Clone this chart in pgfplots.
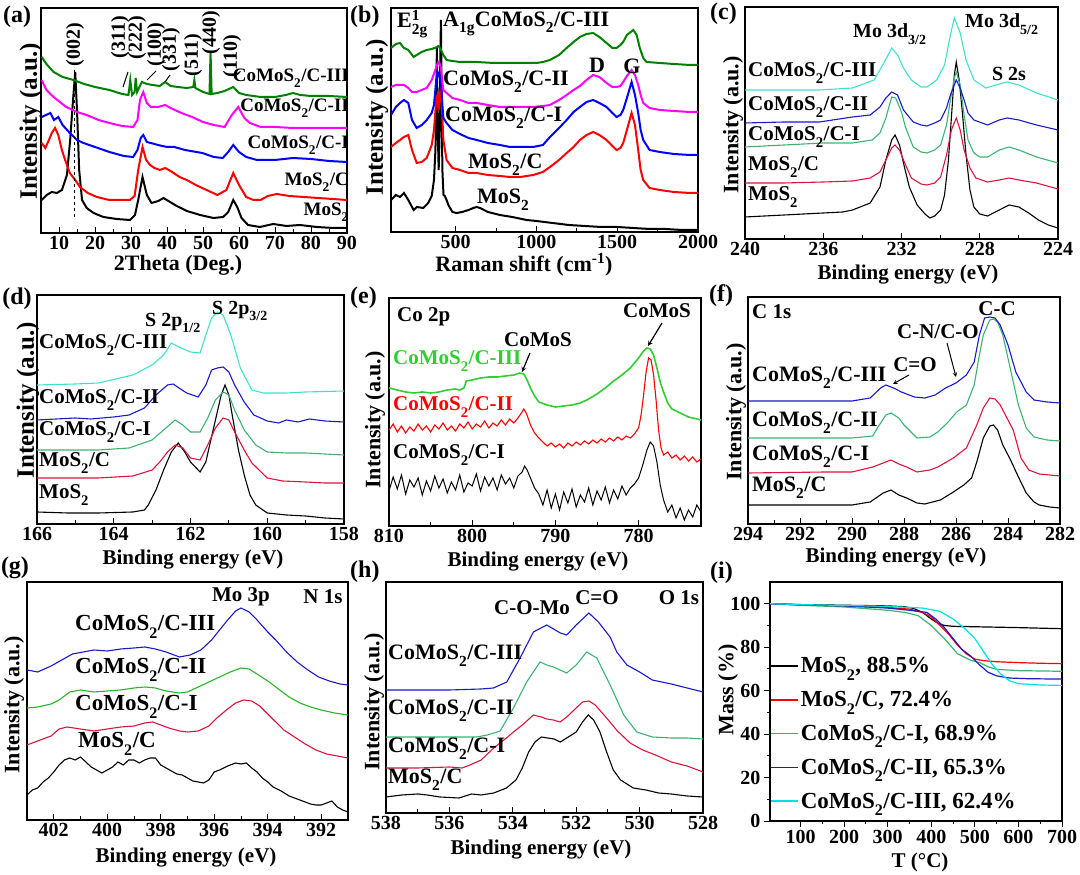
\documentclass[border=0pt]{standalone}
\usepackage{fontspec}
\setmainfont{Liberation Serif}[UprightFont={* Bold}]
\usepackage{pgfplots}
\pgfplotsset{compat=1.18}
\definecolor{cRed}{RGB}{255,0,0}
\definecolor{cCrim}{RGB}{220,20,60}
\definecolor{cMag}{RGB}{255,0,255}
\definecolor{cBlue}{RGB}{0,0,255}
\definecolor{cNavy}{RGB}{25,25,200}
\definecolor{cGreen}{RGB}{0,128,0}
\definecolor{cLime}{RGB}{50,205,50}
\definecolor{cG2}{RGB}{40,180,40}
\definecolor{cSea}{RGB}{60,179,113}
\definecolor{cTurq}{RGB}{64,224,208}
\definecolor{cCyan}{RGB}{0,225,230}
\newcommand\fs[1]{\fontsize{#1}{#1}\selectfont}
\newcommand\s[1]{\raisebox{-0.35ex}{\textsubscript{#1}}}
\newcommand\CM{CoMoS\s{2}/C}
\newcommand\MS{MoS\s{2}}
\pgfplotsset{
  base/.style={scale only axis, anchor=center, axis line style={line width=1.1pt},
    every tick/.style={line width=0.9pt, black}, major tick length=6pt, minor tick length=3.5pt,
    tick label style={font=\fs{20}}, /pgf/number format/assume math mode=true,
    /pgf/number format/1000 sep={}, tick pos=left},
  spec/.style={base, y filter/.expression={-y}, ytick=\empty, minor x tick num=1},
}
\begin{document}
\begin{tikzpicture}
\useasboundingbox (0,0) rectangle (1080pt,875pt);
% (a)
\begin{axis}[spec, at={(194pt,754.5pt)}, width=306pt, height=225pt, xmin=5, xmax=90, ymin=-233, ymax=-8, xtick={10,20,...,90}]
\addplot[black, line width=2pt] coordinates {(5.2,200)(6.6,195)(8.0,192)(9.4,193)(10.8,190)(12.2,175)(13.1,140)(13.9,100)(14.5,72)(15.0,110)(15.6,170)(16.4,200)(17.7,208)(19.6,213)(22.3,217)(26.0,219)(29.7,220)(31.1,215)(32.0,200)(33.2,177)(34.4,195)(35.7,203)(37.6,201)(39.0,198)(40.4,201)(42.7,206)(45.5,211)(49.2,215)(52.9,218)(55.6,217)(57.0,212)(58.4,200)(59.5,207)(60.7,218)(62.5,225)(65.8,227)(69.5,224)(73.2,226)(76.9,225)(81.6,227)(86.2,228)(90,228)};
\addplot[cRed, line width=2pt] coordinates {(5.2,143)(6.2,148)(7.2,140)(8.0,133)(8.9,128)(9.8,135)(10.8,150)(11.7,160)(13.0,173)(14.5,180)(15.8,187)(18.0,193)(20.5,197)(24,200)(27,200)(29.7,200)(31.0,196)(32.0,170)(33.2,147)(34.2,160)(35.3,165)(36.5,168)(38,170)(39.5,168)(41,171)(43.5,177)(45.5,180)(48,185)(51,190)(54,195)(56.5,190)(58.4,173)(60,185)(62,197)(64,200)(66,200)(68,196)(70.5,194)(74,196)(78,197)(82,198)(86,199)(90,200)};
\addplot[cBlue, line width=2pt] coordinates {(5.2,117)(6.4,115)(7.6,113)(8.6,120)(9.8,117)(11,125)(13,133)(15,140)(16.8,143)(20,147)(24,152)(28,156)(30.6,157)(31.8,150)(32.7,138)(33.4,135)(34.4,142)(35.5,143)(37.5,145)(40,147)(42,147)(45,150)(49.8,153)(53,157)(55.5,158)(57,152)(58.4,145)(60,152)(62,157)(65,160)(70,160)(75,158)(80,159)(85,161)(90,162)};
\addplot[cMag, line width=2pt] coordinates {(5.2,80)(6.5,90)(8.5,97)(12,107)(15,112)(17.7,115)(21,120)(24,123)(27.5,126)(30.6,127)(31.8,120)(32.5,100)(33.4,92)(34.4,103)(35.5,107)(37.5,107)(39.5,105)(41,108)(44,113)(47,117)(50,122)(53,125)(56,127)(58,115)(59.8,107)(61.5,118)(63,123)(66,127)(70,127)(75,128)(80,128)(85,128)(90,128)};
\addplot[cGreen, line width=2pt] coordinates {(5.2,57)(6.5,64)(8.5,72)(11,77)(14,80)(17,84)(20,87)(24,90)(27.5,94)(29.3,95)(29.8,80)(30.3,95)(31.0,92)(31.3,78)(31.7,92)(33,82)(34.4,84)(36,85)(38,86)(39.5,82)(41,86)(43,87)(45.5,88)(47.3,87)(47.6,80)(47.9,88)(50,92)(51.8,94)(52.1,52)(52.4,94)(54,93)(56,91)(58.4,87)(60,93)(62,95)(66,97)(70,97)(73,95)(75,93)(77,95)(80,96)(85,96)(90,97)};
\draw[dashed, line width=1pt] (axis cs:14.4,-70) -- (axis cs:14.4,-217);
\end{axis}
% (b)
\begin{axis}[spec, at={(544.5pt,755pt)}, width=307pt, height=224pt, xmin=100, xmax=2000, ymin=-232, ymax=-8, xtick={500,1000,1500,2000}]
\addplot[black, line width=2pt] coordinates {(100,200)(130,195)(156,197)(180,193)(207,200)(240,210)(260,207)(300,208)(330,203)(352,196)(366,180)(375,150)(380,100)(384,47)(388,120)(395,170)(400,140)(405,60)(409,20)(413,90)(418,170)(425,195)(433,196)(444,200)(455,205)(480,212)(506,213)(540,212)(580,210)(609,208)(630,207)(651,208)(700,212)(774,215)(850,217)(939,220)(1000,221)(1100,223)(1200,225)(1300,226)(1400,227)(1500,227)(1600,228)(1700,229)(1800,229)(1900,230)(2000,230)};
\addplot[cRed, line width=2pt] coordinates {(100,147)(130,143)(156,140)(180,137)(207,135)(230,150)(259,163)(290,162)(321,158)(352,145)(366,130)(380,100)(388,95)(395,110)(402,95)(409,87)(416,110)(424,140)(444,160)(480,168)(527,170)(580,173)(630,173)(700,175)(774,176)(836,177)(900,177)(980,175)(1040,172)(1084,167)(1140,160)(1187,153)(1230,147)(1269,140)(1310,135)(1351,132)(1390,135)(1434,140)(1470,146)(1496,150)(1520,148)(1537,143)(1560,130)(1589,113)(1610,125)(1630,150)(1645,170)(1661,180)(1700,188)(1764,190)(1850,192)(1950,193)(2000,193)};
\addplot[cBlue, line width=2pt] coordinates {(100,115)(130,107)(156,103)(180,100)(207,103)(230,120)(259,128)(290,125)(321,120)(352,113)(366,105)(380,80)(388,72)(395,75)(402,78)(409,80)(416,100)(424,118)(444,123)(480,130)(527,134)(580,138)(630,140)(700,143)(774,145)(836,147)(900,147)(980,147)(1040,145)(1084,137)(1140,128)(1187,120)(1230,112)(1269,107)(1310,102)(1351,100)(1390,103)(1434,107)(1470,113)(1496,117)(1520,115)(1537,110)(1560,98)(1589,82)(1610,95)(1630,113)(1645,130)(1661,140)(1700,150)(1764,152)(1850,154)(1950,155)(2000,155)};
\addplot[cMag, line width=2pt] coordinates {(100,87)(130,85)(156,85)(180,85)(207,88)(230,92)(259,92)(290,90)(321,88)(352,80)(370,72)(385,65)(393,62)(400,63)(409,68)(416,80)(424,90)(444,93)(480,98)(527,100)(580,103)(630,103)(700,105)(774,107)(836,107)(900,107)(980,107)(1040,106)(1084,105)(1140,100)(1187,95)(1230,90)(1269,86)(1310,80)(1351,75)(1390,77)(1434,83)(1470,87)(1496,87)(1520,86)(1537,82)(1560,76)(1589,70)(1610,75)(1630,85)(1645,95)(1661,103)(1700,108)(1764,110)(1850,111)(1950,112)(2000,112)};
\addplot[cGreen, line width=2pt] coordinates {(100,48)(130,44)(156,43)(180,48)(207,50)(240,57)(259,55)(290,52)(321,50)(352,49)(370,48)(385,47)(393,46)(400,47)(409,50)(424,55)(444,60)(480,61)(527,62)(630,62)(736,63)(836,63)(939,63)(1000,63)(1040,62)(1084,60)(1140,55)(1187,48)(1230,42)(1269,37)(1310,34)(1351,33)(1390,37)(1434,43)(1470,48)(1496,48)(1520,45)(1537,42)(1560,35)(1600,30)(1620,35)(1640,48)(1661,58)(1681,62)(1764,63)(1850,64)(1950,65)(2000,65)};
\end{axis}
% (c)
\begin{axis}[spec, at={(901.5pt,752pt)}, width=313pt, height=232pt, x dir=reverse, xmin=224, xmax=240, ymin=-239, ymax=-7, xtick={224,228,...,240}]
\addplot[black, line width=1.1pt] coordinates {(240,217)(238,215)(236,213)(235,212)(234.5,210)(233.6,203)(233.1,187)(232.8,160)(232.5,140)(232.33,135)(232.1,145)(231.9,163)(231.6,187)(231.2,205)(230.8,214)(230.55,218)(230.3,216)(230.0,210)(229.8,195)(229.6,160)(229.44,115)(229.3,75)(229.2,62)(229.05,80)(228.9,110)(228.7,155)(228.5,190)(228.3,207)(228.0,214)(227.6,216)(227.0,210)(226.5,205)(226.0,207)(225.5,213)(225.0,220)(224.5,225)(224,228)};
\addplot[cCrim, line width=1.1pt] coordinates {(240,183)(238,183)(236,182)(234.5,181)(233.6,178)(233.1,172)(232.8,160)(232.5,148)(232.33,145)(232.1,150)(231.9,160)(231.5,178)(231.0,184)(230.7,185)(230.3,183)(230.0,177)(229.7,155)(229.45,130)(229.2,118)(229.0,130)(228.8,150)(228.5,168)(228.2,178)(227.6,182)(227.0,180)(226.5,178)(226,180)(225.1,183)(224,189)};
\addplot[cSea, line width=1.1pt] coordinates {(240,147)(238,145)(236,143)(234.5,143)(233.5,140)(233.1,133)(232.8,118)(232.5,97)(232.3,98)(232.0,112)(231.8,127)(231.4,147)(231.0,152)(230.7,153)(230.3,150)(230.0,145)(229.7,125)(229.5,100)(229.3,78)(229.2,72)(229.0,85)(228.8,115)(228.6,140)(228.3,153)(228.0,157)(227.6,157)(227,150)(226.5,147)(226,150)(225.1,157)(224,163)};
\addplot[cNavy, line width=1.1pt] coordinates {(240,123)(238,122)(236.2,122)(234.5,117)(233.6,115)(233.1,107)(232.8,98)(232.5,92)(232.2,95)(231.9,110)(231.4,122)(231.0,125)(230.7,126)(230.3,123)(230.0,120)(229.7,108)(229.5,95)(229.2,80)(229.0,88)(228.8,100)(228.6,113)(228.3,120)(227.6,125)(227.0,120)(226.6,118)(226.0,120)(225.1,125)(224,130)};
\addplot[cTurq, line width=1.1pt] coordinates {(240,90)(238,90)(236.2,90)(234.5,88)(233.4,80)(232.9,63)(232.5,48)(232.2,55)(231.9,68)(231.5,80)(231.0,87)(230.7,87)(230.2,80)(229.8,65)(229.5,35)(229.3,18)(229.0,33)(228.7,60)(228.3,80)(227.7,88)(227.0,84)(226.6,82)(226.0,85)(225.1,93)(224,100)};
\end{axis}
% (d)
\begin{axis}[spec, at={(190.5pt,465.5pt)}, width=307pt, height=229pt, x dir=reverse, xmin=158, xmax=166, ymin=-524, ymax=-295, xtick={158,160,...,166}]
\addplot[black, line width=1.1pt] coordinates {(166,512)(165.2,513)(164.4,513)(163.5,512)(163.2,510)(163.1,505)(162.9,490)(162.7,470)(162.5,452)(162.32,443)(162.15,452)(162.0,462)(161.75,472)(161.6,462)(161.5,445)(161.35,420)(161.2,395)(161.1,385)(161.0,395)(160.9,418)(160.75,450)(160.6,475)(160.45,495)(160.3,505)(160.0,513)(159.5,515)(159,516)(158.5,518)(158,519)};
\addplot[cCrim, line width=1.1pt] coordinates {(166,478)(165,478)(164.4,478)(163.5,476)(163.0,470)(162.8,462)(162.6,452)(162.4,445)(162.2,448)(162.0,458)(161.75,460)(161.55,445)(161.35,428)(161.15,418)(161.0,420)(160.85,432)(160.6,450)(160.4,463)(160.0,478)(159.6,481)(159,482)(158.5,483)(158,483)};
\addplot[cSea, line width=1.1pt] coordinates {(166,450)(165,450)(164.4,450)(163.6,448)(163.0,440)(162.7,430)(162.4,420)(162.2,425)(162.0,432)(161.75,432)(161.55,418)(161.35,400)(161.15,392)(161.0,395)(160.85,410)(160.6,430)(160.3,445)(160.0,452)(159.5,453)(159,453)(158.5,454)(158,455)};
\addplot[cNavy, line width=1.1pt] coordinates {(166,420)(165.5,419)(165,418)(164.6,419)(164,417)(163.6,415)(163.2,408)(162.9,395)(162.6,385)(162.45,384)(162.3,388)(162.1,393)(161.8,397)(161.6,385)(161.45,370)(161.3,368)(161.15,367)(161.0,372)(160.85,385)(160.6,402)(160.35,415)(160.0,421)(159.7,423)(159.5,420)(159.2,422)(158.9,419)(158.5,421)(158,422)};
\addplot[cTurq, line width=1.1pt] coordinates {(166,385)(165,384)(164.4,383)(163.5,375)(163.0,365)(162.7,355)(162.5,343)(162.3,347)(162.0,352)(161.75,353)(161.6,335)(161.45,318)(161.3,312)(161.15,315)(160.95,335)(160.7,368)(160.4,390)(160.1,393)(159.5,393)(159,392)(158,391)};
\end{axis}
% (e)
\begin{axis}[spec, at={(545pt,463pt)}, width=312pt, height=228pt, x dir=reverse, xmin=772.5, xmax=810, ymin=-526, ymax=-298, xtick={780,790,800,810}]
\addplot[black, line width=1pt] coordinates {(810,491)(809.5,477)(809,489)(808.5,475)(808,494)(807.5,480)(807,487)(806.5,478)(806,495)(805.5,481)(805,491)(804.5,476)(804,488)(803.5,479)(803,493)(802.5,482)(802,490)(801.5,475)(801,492)(800.5,483)(800,486)(799.5,474)(799,491)(798.5,477)(798,486)(797.5,478)(797,490)(796.5,475)(796,484)(795.5,478)(795,488)(794.5,476)(794,472)(793.7,466)(793.4,470)(793,478)(792.5,488)(792,494)(791.5,505)(791,490)(790.5,508)(790,494)(789.5,510)(789,492)(788.5,503)(788,489)(787.5,507)(787,495)(786.5,502)(786,488)(785.5,505)(785,491)(784.5,500)(784,487)(783.5,503)(783,490)(782.5,499)(782,486)(781.5,495)(781,488)(780.5,484)(780,478)(779.5,465)(779,450)(778.6,442)(778.2,446)(777.8,462)(777.4,485)(777,500)(776.5,512)(776,505)(775.5,518)(775,508)(774.5,520)(774,510)(773.5,517)(773,505)(772.5,512)};
\addplot[cRed, line width=1.1pt] coordinates {(810,430)(809.5,424)(809,432)(808.5,426)(808,433)(807.5,427)(807,431)(806.5,424)(806,430)(805.5,426)(805,432)(804.5,425)(804,429)(803.5,423)(803,430)(802.5,426)(802,431)(801.5,424)(801,428)(800.5,422)(800,429)(799.5,424)(799,427)(798.5,421)(798,428)(797.5,423)(797,426)(796.5,420)(796,425)(795.5,419)(795,423)(794.5,418)(794,412)(793.8,409)(793.5,413)(793.2,420)(793,425)(792.5,433)(792,438)(791.5,442)(791,446)(790.5,443)(790,447)(789.5,444)(789,448)(788.5,443)(788,446)(787.5,442)(787,445)(786.5,441)(786,444)(785.5,440)(785,443)(784.5,439)(784,442)(783.5,438)(783,441)(782.5,437)(782,440)(781.5,436)(781,438)(780.5,434)(780,428)(779.7,415)(779.4,395)(779.1,372)(778.8,358)(778.5,360)(778.2,375)(777.9,400)(777.6,430)(777.3,448)(777,455)(776.5,452)(776,458)(775.5,455)(775,460)(774.5,456)(774,461)(773.5,457)(773,462)(772.5,459)};
\addplot[cLime, line width=1.6pt] coordinates {(810,388)(809,390)(808,392)(807,393)(806,392)(805,393)(804,392)(803.5,391)(803,390)(802,389)(801.5,390)(801,388)(800.7,381)(800,380)(799,378)(798,377)(797,377)(796,376)(795,375)(794.3,373)(793.8,374)(793.4,380)(793,388)(792.5,396)(792,402)(791,405)(790,407)(789,406)(788,405)(787,403)(786,399)(785,394)(784,388)(783,381)(782,375)(781,368)(780.5,363)(780,358)(779.5,352)(779,348)(778.6,349)(778.2,355)(777.8,368)(777.4,382)(777,392)(776.5,403)(776,409)(775,413)(774,417)(773,419)(772.5,420)};
\end{axis}
% (f)
\begin{axis}[spec, at={(904pt,464.5pt)}, width=312pt, height=227pt, x dir=reverse, xmin=282, xmax=294, ymin=-524, ymax=-297, xtick={282,284,...,294}]
\addplot[black, line width=1.1pt] coordinates {(294,505)(291.2,505)(290,505)(289.3,502)(288.8,493)(288.5,490)(288.2,495)(287.9,498)(287.5,503)(287.2,504)(286.9,502)(286.6,500)(286.1,492)(285.7,485)(285.4,478)(285.2,462)(284.95,438)(284.7,426)(284.56,425)(284.4,430)(284.2,445)(283.9,460)(283.6,477)(283.3,493)(283.0,502)(282.8,505)(282.4,507)(282,508)};
\addplot[cCrim, line width=1.1pt] coordinates {(294,473)(291,472)(290,472)(289.2,467)(288.8,463)(288.5,460)(288.2,464)(287.9,467)(287.5,472)(287.0,470)(286.7,467)(286.1,458)(285.6,448)(285.2,425)(284.95,408)(284.7,398)(284.5,399)(284.3,405)(284.0,420)(283.8,430)(283.5,458)(283.2,470)(282.8,474)(282.4,475)(282,476)};
\addplot[cSea, line width=1.1pt] coordinates {(294,438)(292,438)(290,438)(289.2,436)(289.0,427)(288.7,415)(288.5,413)(288.2,418)(288.0,425)(287.5,438)(287.0,437)(286.7,432)(286.3,422)(285.97,412)(285.6,405)(285.3,385)(285.1,355)(284.95,335)(284.7,320)(284.56,319)(284.4,322)(284.2,335)(283.9,370)(283.6,405)(283.3,428)(283.0,437)(282.5,440)(282,441)};
\addplot[cNavy, line width=1.1pt] coordinates {(294,401)(292,401)(290,401)(289.3,398)(288.9,388)(288.7,385)(288.4,388)(288.1,392)(287.6,397)(287.2,398)(286.8,395)(286.4,388)(286.0,383)(285.6,375)(285.3,362)(285.1,335)(284.9,318)(284.7,317)(284.5,318)(284.3,325)(284.0,345)(283.7,372)(283.3,392)(283.0,400)(282.5,402)(282,403)};
\end{axis}
% (g)
\begin{axis}[spec, at={(187.5pt,174pt)}, width=321pt, height=238pt, x dir=reverse, xmin=391, xmax=403, ymin=-820, ymax=-582, xtick={392,394,...,402}]
\addplot[black, line width=1.1pt] coordinates {(403,795)(402.8,790)(402.6,788)(402.4,782)(402.2,778)(402,772)(401.8,765)(401.6,760)(401.4,758)(401.2,760)(401,757)(400.8,762)(400.6,767)(400.4,770)(400.2,773)(400,770)(399.8,767)(399.6,762)(399.4,765)(399.2,760)(399,760)(398.8,763)(398.6,760)(398.4,758)(398.2,758)(398,765)(397.8,768)(397.6,771)(397.4,774)(397.2,775)(397,778)(396.8,781)(396.6,782)(396.4,783)(396.2,780)(396,772)(395.8,770)(395.5,766)(395.2,763)(395,764)(394.8,763)(394.6,768)(394.4,772)(394.2,778)(394,782)(393.8,787)(393.5,791)(393.2,796)(393,798)(392.7,801)(392.4,804)(392.2,805)(392,805)(391.8,803)(391.6,801)(391.4,807)(391.2,810)(391,812)};
\addplot[cCrim, line width=1.1pt] coordinates {(403,745)(402.6,741)(402.1,736)(401.8,729)(401.5,727)(401,729)(400.5,731)(400,729)(399.5,727)(399,726)(398.6,723)(398.3,722)(398,725)(397.7,728)(397.3,731)(397,732)(396.6,731)(396.2,726)(395.9,718)(395.5,709)(395.2,703)(394.9,700)(394.6,701)(394.3,706)(394,714)(393.7,722)(393.4,730)(393,737)(392.6,744)(392.2,750)(391.8,754)(391.4,756)(391,758)};
\addplot[cG2, line width=1.1pt] coordinates {(403,708)(402.6,707)(402.1,704)(401.8,700)(401.4,692)(401,690)(400.5,692)(400,691)(399.5,690)(399,688)(398.6,687)(398.2,688)(397.8,691)(397.3,693)(397,692)(396.6,687)(396.2,682)(395.8,677)(395.4,672)(395,668)(394.7,669)(394.4,674)(394,681)(393.6,689)(393.2,697)(392.8,703)(392.4,707)(392,710)(391.5,713)(391,715)};
\addplot[cNavy, line width=1.1pt] coordinates {(403,670)(402.6,672)(402.1,666)(401.7,660)(401.3,654)(400.9,652)(400.5,650)(400,651)(399.5,649)(399,648)(398.6,647)(398.2,649)(397.8,652)(397.3,657)(396.9,655)(396.5,650)(396.1,640)(395.8,630)(395.5,620)(395.2,611)(395,608)(394.7,612)(394.4,620)(394,632)(393.7,640)(393.3,652)(392.9,662)(392.5,670)(392.1,677)(391.7,681)(391.3,684)(391,685)};
\end{axis}
% (h)
\begin{axis}[spec, at={(544.5pt,177.5pt)}, width=317pt, height=231pt, x dir=reverse, xmin=528, xmax=538, ymin=-813, ymax=-582, xtick={528,530,...,538}]
\addplot[black, line width=1.1pt] coordinates {(538,797)(537.5,795)(537,794)(536.7,795)(536.3,797)(535.7,798)(535.3,794)(535,795)(534.6,793)(534.2,788)(533.9,780)(533.7,768)(533.5,752)(533.3,742)(533.1,737)(532.9,738)(532.7,739)(532.5,742)(532.3,738)(532,732)(531.8,722)(531.62,715)(531.45,720)(531.25,732)(531.04,752)(530.83,770)(530.6,780)(530.2,788)(529.8,790)(529.4,793)(529,794)(528.5,796)(528,797)};
\addplot[cCrim, line width=1.1pt] coordinates {(538,768)(537,768)(536,767)(535.6,768)(535.35,765)(535,760)(534.6,748)(534.2,738)(533.98,732)(533.7,725)(533.35,715)(533.1,717)(532.93,719)(532.72,720)(532.51,722)(532.3,717)(532,708)(531.8,702)(531.6,701)(531.4,705)(531.04,718)(530.7,731)(530.3,743)(529.9,750)(529.5,755)(529,762)(528.5,766)(528,772)};
\addplot[cSea, line width=1.1pt] coordinates {(538,737)(537,737)(536,737)(535.14,737)(534.8,735)(534.4,731)(533.98,708)(533.56,682)(533.14,662)(532.93,665)(532.72,667)(532.3,673)(532,665)(531.67,652)(531.35,658)(530.93,685)(530.5,715)(530.09,732)(529.6,737)(529,738)(528.5,738)(528,739)};
\addplot[cNavy, line width=1.1pt] coordinates {(538,690)(537,690)(536,690)(535,689)(534.61,688)(534.19,682)(533.77,658)(533.35,632)(532.93,625)(532.5,633)(532.3,635)(532,625)(531.6,613)(531.3,622)(530.93,637)(530.72,652)(530.4,665)(530,672)(529.6,680)(529,684)(528.5,688)(528,692)};
\end{axis}
% (i)
\begin{axis}[base, at={(916pt,173.5pt)}, width=292pt, height=239pt, xmin=30, xmax=700, ymin=0, ymax=110, xtick={100,200,...,700}, ytick={0,20,...,100}, minor tick num=1, tick align=outside,
  legend style={at={(0,0.693)}, anchor=north west, draw=none, fill=none, font=\fs{23}, row sep=13pt, inner sep=0pt},
  legend cell align=left, legend image code/.code={\draw[#1, line width=1.6pt] (0pt,0pt) -- (27pt,0pt);}]
\addplot[black, line width=1.2pt] coordinates {(30,100)(100,99.6)(200,99.3)(300,99)(340,98.6)(360,97.8)(380,96)(400,93)(415,91)(430,90)(450,89.6)(500,89.4)(600,89)(700,88.5)};
\addlegendentry{\MS, 88.5\%}
\addplot[cRed, line width=1.2pt] coordinates {(30,100)(100,99.5)(200,99)(300,98.3)(350,97.5)(380,96)(400,94)(420,90)(440,86)(460,81)(480,77)(500,74.5)(520,73.8)(550,73.3)(600,72.9)(650,72.6)(700,72.4)};
\addlegendentry{\MS/C, 72.4\%}
\addplot[cSea, line width=1.2pt] coordinates {(30,100)(100,99.3)(200,98.5)(300,97)(340,96)(370,94.5)(400,90)(430,84)(460,77)(490,74)(510,73)(530,71)(550,69.8)(600,69.2)(700,68.9)};
\addlegendentry{\CM-I, 68.9\%}
\addplot[cNavy, line width=1.2pt] coordinates {(30,100)(100,99.5)(200,99)(300,98)(350,97)(390,96)(410,93)(430,89)(450,84)(470,79)(490,76)(510,72)(530,68.5)(550,66.8)(580,65.8)(620,65.5)(700,65.3)};
\addlegendentry{\CM-II, 65.3\%}
\addplot[cCyan, line width=1.2pt] coordinates {(30,100)(100,99.6)(200,99.2)(300,98.8)(380,98)(420,96.5)(450,93)(480,88)(500,84)(520,78)(540,72)(560,67.5)(580,64.5)(600,63.2)(650,62.6)(700,62.4)};
\addlegendentry{\CM-III, 62.4\%}
\end{axis}
% ---------- texts (image pixel coordinates) ----------
\begin{scope}[x=1pt, y=-1pt, shift={(0pt,875pt)}, every node/.style={inner sep=0pt}]
% panel letters
\node[font=\fs{24}] at (17,17) {(a)};
\node[font=\fs{24},anchor=west] at (350,17) {(b)};
\node[font=\fs{24},anchor=west] at (710,14) {(c)};
\node[font=\fs{24}] at (17,299) {(d)};
\node[font=\fs{24},anchor=west] at (350,298) {(e)};
\node[font=\fs{24},anchor=west] at (709,296) {(f)};
\node[font=\fs{24}] at (15,568) {(g)};
\node[font=\fs{24},anchor=west] at (350,572) {(h)};
\node[font=\fs{24},anchor=west] at (710,573) {(i)};
% y labels
\node[font=\fs{25},rotate=90] at (31,121) {Intensity (a.u.)};
\node[font=\fs{25},rotate=90] at (377,117) {Intensity (a.u.)};
\node[font=\fs{22},rotate=90] at (733,125) {Intensity (a.u.)};
\node[font=\fs{25},rotate=90] at (28,400) {Intensity (a.u.)};
\node[font=\fs{22},rotate=90] at (375,420) {Intensity (a.u.)};
\node[font=\fs{22},rotate=90] at (736,412) {Intensity (a.u.)};
\node[font=\fs{22},rotate=90] at (14,705) {Intensity (a.u.)};
\node[font=\fs{22},rotate=90] at (374,702) {Intensity (a.u.)};
\node[font=\fs{22},rotate=90] at (728,690) {Mass (\%)};
% x labels
\node[font=\fs{22}] at (178,265) {2Theta (Deg.)};
\node[font=\fs{22}] at (524,265) {Raman shift (cm\textsuperscript{-1})};
\node[font=\fs{21}] at (908,275) {Binding energy (eV)};
\node[font=\fs{21}] at (193,560) {Binding energy (eV)};
\node[font=\fs{21}] at (538,562) {Binding energy (eV)};
\node[font=\fs{21}] at (896,558) {Binding energy (eV)};
\node[font=\fs{21}] at (186,858) {Binding energy (eV)};
\node[font=\fs{21}] at (541,850) {Binding energy (eV)};
\node[font=\fs{21}] at (920,862) {T (°C)};
% (a) annotations
\node[font=\fs{20},rotate=90] at (75,45) {(002)};
\node[font=\fs{20},rotate=90] at (120,37) {(311)};
\node[font=\fs{20},rotate=90] at (137,38) {(222)};
\node[font=\fs{20},rotate=90] at (156,45) {(100)};
\node[font=\fs{20},rotate=90] at (171,50) {(331)};
\node[font=\fs{20},rotate=90] at (193,55) {(511)};
\node[font=\fs{20},rotate=90] at (211,33) {(440)};
\node[font=\fs{20},rotate=90] at (232,56) {(110)};
\draw[line width=1pt] (123,87) -- (128,72);
\draw[line width=1pt] (147,80) -- (156,71);
\draw[line width=1pt] (165,82) -- (170,75);
\node[font=\fs{19},anchor=east] at (349,78) {\CM-III};
\node[font=\fs{19},anchor=east] at (349,108) {\CM-II};
\node[font=\fs{19},anchor=east] at (349,145) {\CM-I};
\node[font=\fs{19},anchor=east] at (349,182) {\MS/C};
\node[font=\fs{19},anchor=east] at (349,212) {\MS};
% (b)
\node[font=\fs{22},anchor=west] at (397,24) {E\rlap{\textsuperscript{1}}\s{2g}};
\node[font=\fs{22},anchor=west] at (443,24) {A\s{1g}\CM-III};
\node[font=\fs{22},anchor=west] at (443,82) {\CM-II};
\node[font=\fs{22},anchor=west] at (445,118) {\CM-I};
\node[font=\fs{22},anchor=west] at (468,165) {\MS/C};
\node[font=\fs{22},anchor=west] at (477,200) {\MS};
\node[font=\fs{22}] at (597,65) {D};
\node[font=\fs{22}] at (632,66) {G};
% (c)
\node[font=\fs{20},anchor=west] at (853,34) {Mo 3d\s{3/2}};
\node[font=\fs{20},anchor=west] at (965,24) {Mo 3d\s{5/2}};
\node[font=\fs{20}] at (1009,74) {S 2s};
\node[font=\fs{21},anchor=west] at (748,73) {\CM-III};
\node[font=\fs{21},anchor=west] at (748,107) {\CM-II};
\node[font=\fs{21},anchor=west] at (748,137) {\CM-I};
\node[font=\fs{21},anchor=west] at (748,167) {\MS/C};
\node[font=\fs{21},anchor=west] at (748,197) {\MS};
% (d)
\node[font=\fs{20},anchor=west] at (145,323) {S 2p\s{1/2}};
\node[font=\fs{20},anchor=west] at (212,311) {S 2p\s{3/2}};
\node[font=\fs{21},anchor=west] at (39,345) {\CM-III};
\node[font=\fs{21},anchor=west] at (39,400) {\CM-II};
\node[font=\fs{21},anchor=west] at (39,432) {\CM-I};
\node[font=\fs{21},anchor=west] at (39,463) {\MS/C};
\node[font=\fs{21},anchor=west] at (39,495) {\MS};
% (e)
\node[font=\fs{21},anchor=west] at (397,317) {Co 2p};
\node[font=\fs{21}] at (538,340) {CoMoS};
\node[font=\fs{21}] at (657,311) {CoMoS};
\draw[-stealth, line width=1.2pt] (530,353) -- (522,372);
\draw[-stealth, line width=1.2pt] (662,323) -- (648,346);
\node[font=\fs{21},anchor=west,text=cLime] at (393,361) {\CM-III};
\node[font=\fs{21},anchor=west,text=cRed] at (393,407) {\CM-II};
\node[font=\fs{21},anchor=west] at (393,455) {\CM-I};
% (f)
\node[font=\fs{21},anchor=west] at (752,312) {C 1s};
\node[font=\fs{21}] at (997,309) {C-C};
\node[font=\fs{21}] at (938,332) {C-N/C-O};
\node[font=\fs{21}] at (915,365) {C=O};
\draw[-stealth, line width=1pt] (947,343) -- (956,377);
\draw[-stealth, line width=1pt] (909,375) -- (893,384);
\node[font=\fs{22},anchor=west] at (752,378) {\CM-III};
\node[font=\fs{22},anchor=west] at (752,423) {\CM-II};
\node[font=\fs{22},anchor=west] at (752,457) {\CM-I};
\node[font=\fs{22},anchor=west] at (752,488) {\MS/C};
% (g)
\node[font=\fs{21}] at (241,597) {Mo 3p};
\node[font=\fs{21}] at (323,597) {N 1s};
\node[font=\fs{23},anchor=west] at (75,627) {\CM-III};
\node[font=\fs{23},anchor=west] at (75,670) {\CM-II};
\node[font=\fs{23},anchor=west] at (75,707) {\CM-I};
\node[font=\fs{23},anchor=west] at (78,744) {\MS/C};
% (h)
\node[font=\fs{21}] at (532,608) {C-O-Mo};
\node[font=\fs{21}] at (597,598) {C=O};
\node[font=\fs{21}] at (679,598) {O 1s};
\node[font=\fs{22},anchor=west] at (388,656) {\CM-III};
\node[font=\fs{22},anchor=west] at (388,711) {\CM-II};
\node[font=\fs{22},anchor=west] at (388,749) {\CM-I};
\node[font=\fs{22},anchor=west] at (388,780) {\MS/C};
\end{scope}
\end{tikzpicture}
\end{document}
